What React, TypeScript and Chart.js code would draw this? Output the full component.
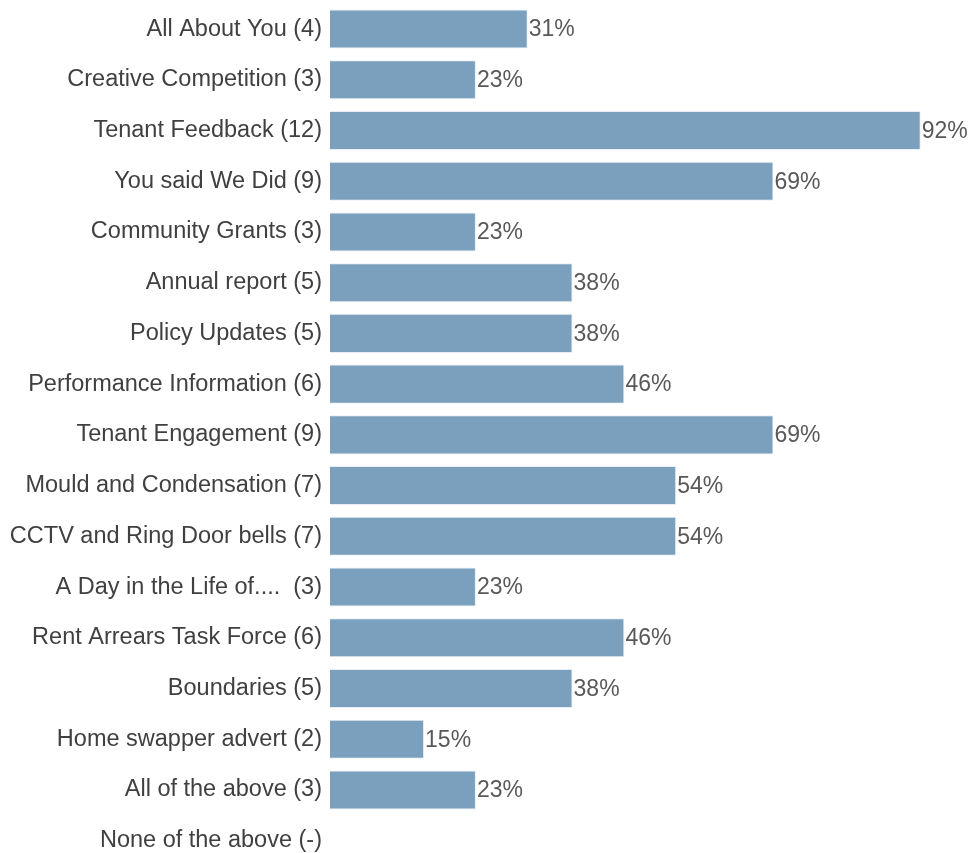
import React, { useEffect, useRef } from "react";
import { Chart, registerables } from "chart.js";

Chart.register(...registerables);

const categories = [
  "All About You (4)",
  "Creative Competition (3)",
  "Tenant Feedback (12)",
  "You said We Did (9)",
  "Community Grants (3)",
  "Annual report (5)",
  "Policy Updates (5)",
  "Performance Information (6)",
  "Tenant Engagement (9)",
  "Mould and Condensation (7)",
  "CCTV and Ring Door bells (7)",
  "A Day in the Life of....  (3)",
  "Rent Arrears Task Force (6)",
  "Boundaries (5)",
  "Home swapper advert (2)",
  "All of the above (3)",
  "None of the above (-)",
];

// percentages
const percentages: (number | null)[] = [
  30.9, 22.8, 92.3, 69.3, 22.8, 37.9, 37.9, 46.0, 69.3, 54.1, 54.1, 22.8, 46.0,
  37.9, 14.7, 22.8, null,
];

const FONT = "'Liberation Sans', Arial, sans-serif";

const valueLabels = {
  id: "valueLabels",
  afterDatasetsDraw(chart: any) {
    const ctx = chart.ctx;
    const meta = chart.getDatasetMeta(0);
    ctx.save();
    ctx.font = `23px ${FONT}`;
    ctx.fillStyle = "#595959";
    ctx.textAlign = "left";
    ctx.textBaseline = "middle";
    meta.data.forEach((bar: any, i: number) => {
      const v = percentages[i];
      if (v === null || v === undefined) return;
      ctx.fillText(`${Math.round(v)}%`, bar.x + 1, bar.y + 1);
    });
    ctx.restore();
  },
};

export default function App() {
  const ref = useRef<HTMLCanvasElement>(null);
  useEffect(() => {
    if (!ref.current) return;
    const chart = new Chart(ref.current, {
      type: "bar",
      data: {
        labels: categories,
        datasets: [
          {
            data: percentages,
            backgroundColor: "#7aa0be",
            borderColor: "#e8eef4",
            borderWidth: 1,
            barPercentage: 0.77,
            categoryPercentage: 1,
          },
        ],
      },
      options: {
        indexAxis: "y",
        animation: false,
        responsive: false,
        maintainAspectRatio: false,
        layout: { padding: { top: 3.7, right: 0, bottom: 0, left: 0 } },
        plugins: {
          legend: { display: false },
          tooltip: { enabled: false },
        },
        scales: {
          x: {
            display: false,
            min: 0,
            max: 99.85,
          },
          y: {
            grid: { display: false, drawTicks: false },
            border: { display: false },
            ticks: {
              color: "#404040",
              font: { family: FONT, size: 23.5 },
              padding: 8,
              autoSkip: false,
            },
            afterFit(scale: any) {
              scale.width = 330;
              scale.paddingTop = 0;
              scale.paddingBottom = 0;
            },
          },
        },
      },
      plugins: [valueLabels],
    });
    return () => chart.destroy();
  }, []);
  return (
    <div style={{ position: "absolute", left: 0, top: 0, width: 969, height: 853, overflow: "hidden", background: "#fff" }}>
      <canvas ref={ref} width={969} height={866} style={{ display: "block" }} />
    </div>
  );
}
